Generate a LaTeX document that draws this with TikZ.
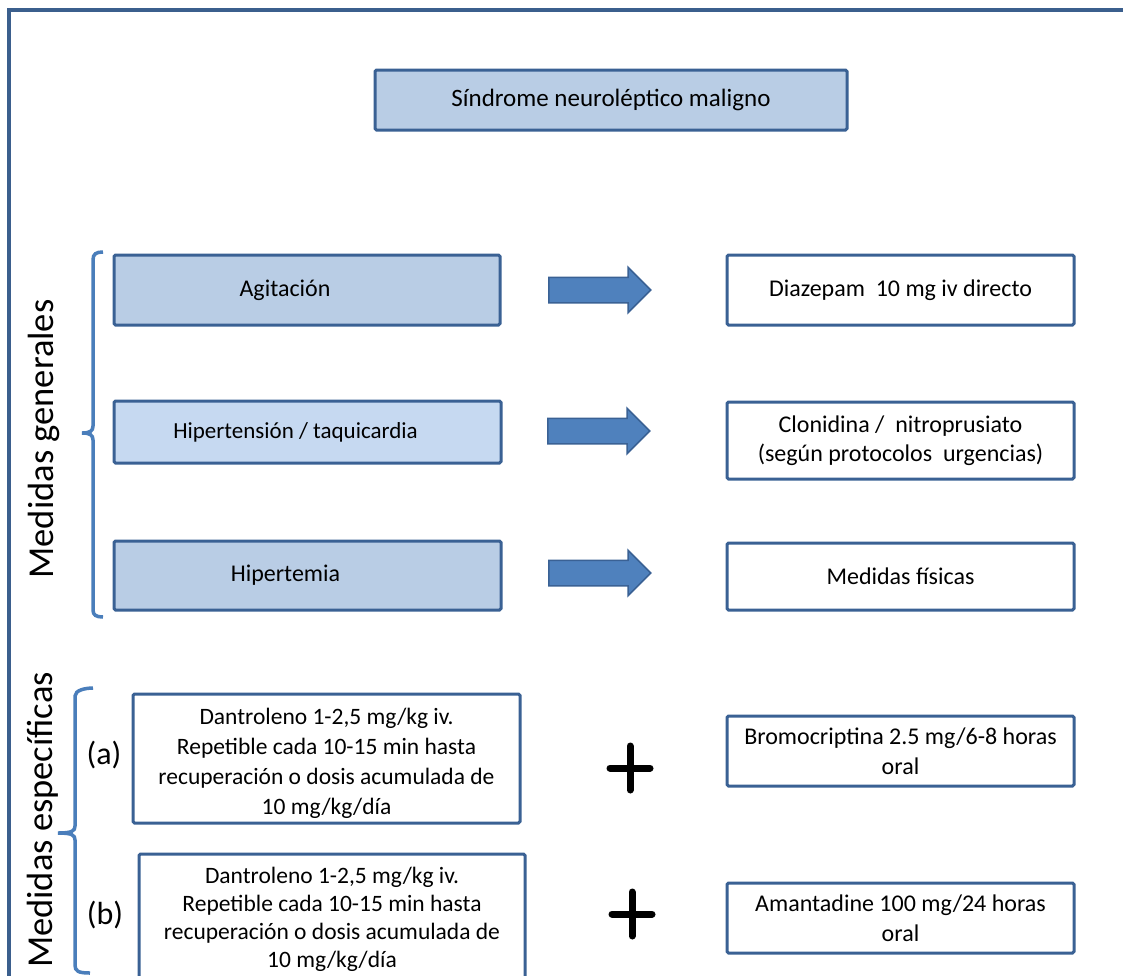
\documentclass[tikz,border=0pt]{standalone}
\usepackage{fontspec}
\setmainfont{Carlito}
\usetikzlibrary{shapes.arrows}
\definecolor{frameblue}{HTML}{3B5F8D}
\definecolor{edgeblue}{HTML}{3A6194}
\definecolor{fillblue}{HTML}{B9CDE5}
\definecolor{filllight}{HTML}{C6D9F1}
\definecolor{arrowblue}{HTML}{4F81BD}
\definecolor{braceblue}{HTML}{4A7EBB}
\newcommand{\boxfont}{\fontsize{24}{29.5}\selectfont}
\newcommand{\dosefont}{\fontsize{23.5}{30}\selectfont}
\newcommand{\sidefont}{\fontsize{36.5}{40}\selectfont}
\tikzset{
  box/.style={draw=edgeblue, line width=3pt, rounded corners=1.5pt, fill=white,
    align=center, inner sep=0pt},
  shaded/.style={box, fill=fillblue},
  blockarrow/.style={single arrow, draw=edgeblue, fill=arrowblue, line width=1.5pt,
    minimum height=102pt, minimum width=44pt, inner sep=12pt,
    single arrow head extend=10pt, single arrow head indent=0pt, anchor=tail},
  brace/.style={draw=braceblue, line width=3.5pt},
  plussign/.style={line width=7pt, line cap=round},
  sidelabel/.style={rotate=90, anchor=base, font=\sidefont},
  tag/.style={font=\fontsize{32}{36}\selectfont}
}
\begin{document}
\begin{tikzpicture}[x=1pt, y=-1pt, font=\boxfont]
\useasboundingbox (0,0) rectangle (1123,975);
\clip (0,0) rectangle (1123,975);
\fill[white] (0,0) rectangle (1123,975);
% outer frame
\draw[frameblue, line width=4.5pt] (9,1010) -- (9,10) -- (1140,10);

% title
\node[shaded, minimum width=472pt, minimum height=60pt, font=\fontsize{25}{30}\selectfont]
  (title) at (611,100) {Síndrome neuroléptico maligno};

% general measures: problems
\node[shaded, minimum width=386pt, minimum height=70pt,
  label={[xshift=-22pt]center:Agitación}] (agit) at (307,290) {};
\node[box, fill=filllight, minimum width=387pt, minimum height=62pt,
  label={[xshift=-12pt, font=\fontsize{23}{28}\selectfont]center:Hipertensión / taquicardia}]
  (hta) at (307.5,432) {};
\node[shaded, minimum width=387pt, minimum height=69pt,
  label={[xshift=-22pt]center:Hipertemia}] (hipt) at (307.5,575.5) {};

% general measures: treatments
\node[box, minimum width=347pt, minimum height=70pt] (diaz) at (900.5,290)
  {Diazepam\ \ 10 mg iv directo};
\node[box, minimum width=347pt, minimum height=77pt] (clon) at (900.5,440.5)
  {Clonidina /\ \ nitroprusiato\\(según protocolos\ \ urgencias)};
\node[box, minimum width=347pt, minimum height=67pt] (fis) at (900.5,576.5)
  {Medidas físicas};

% block arrows
\node[blockarrow] (ar1) at (548,290) {};
\node[blockarrow] (ar2) at (547,431) {};
\node[blockarrow] (ar3) at (548,573) {};

% specific measures
\node[box, minimum width=387pt, minimum height=129pt,
  label={[yshift=-5pt, align=center, font=\dosefont]center:Dantroleno 1-2,5 mg/kg iv.\\Repetible cada 10-15 min hasta\\recuperación o dosis acumulada de\\10 mg/kg/día}]
  (danta) at (326.5,758.5) {};
\node[box, minimum width=386pt, minimum height=150pt,
  label={[yshift=10pt, align=center, font=\fontsize{23.5}{28}\selectfont]center:Dantroleno 1-2,5 mg/kg iv.\\Repetible cada 10-15 min hasta\\recuperación o dosis acumulada de\\10 mg/kg/día}]
  (dantb) at (332,929) {};
\node[box, minimum width=347pt, minimum height=70pt] (bromo) at (900.5,751)
  {Bromocriptina 2.5 mg/6-8 horas\\oral};
\node[box, minimum width=347pt, minimum height=70pt] (amant) at (900.5,918)
  {Amantadine 100 mg/24 horas\\oral};

\node[tag] (taga) at (104,755) {(a)};
\node[tag] (tagb) at (105,915) {(b)};

% plus signs
\draw[plussign] (610,768) -- (650,768) (630,746) -- (630,790);
\draw[plussign] (612,914) -- (652,914) (632,892) -- (632,936);

% braces
\draw[brace] (103,252) .. controls (96,252) and (93,254) .. (93,260) -- (93,426)
  .. controls (93,431) and (90,433) .. (82,433)
  .. controls (90,433) and (93,435) .. (93,440) -- (93,610)
  .. controls (93,615) and (96,617) .. (103,617);
\draw[brace] (93,688) .. controls (86,688) and (75,690) .. (75,696) -- (75,826)
  .. controls (75,831) and (72,833) .. (58,833)
  .. controls (72,833) and (75,835) .. (75,840) -- (75,965)
  .. controls (75,971) and (78,973) .. (90,973);

% side labels
\node[sidelabel] (gen) at (53,439) {Medidas generales};
\node[sidelabel] (esp) at (52,820) {Medidas específicas};
\end{tikzpicture}
\end{document}
